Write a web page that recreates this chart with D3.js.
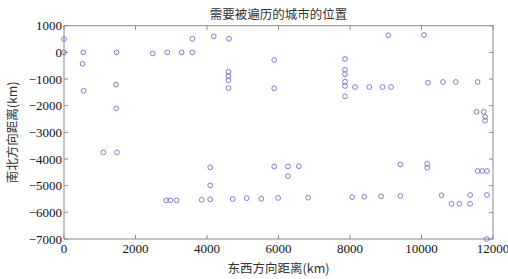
<!DOCTYPE html>
<html lang="zh">
<head>
<meta charset="UTF-8">
<title>需要被遍历的城市的位置</title>
<style>
    body { margin: 0; background: #fff; }
    .tick-label { font-family: "Liberation Serif", "DejaVu Serif", serif; font-size: 13px; fill: #111; }
    .cjk { font-family: "Noto Sans CJK SC", sans-serif; font-size: 12.5px; fill: #333; }
    .frame { fill: none; stroke: #8a8a8a; stroke-width: 1; }
    .tick { stroke: #8a8a8a; stroke-width: 1; }
    .city { fill: none; stroke: #6f6fc8; stroke-width: 0.9; }
</style>
</head>
<body>
<svg id="chart" width="508" height="279"></svg>
<script src="https://d3js.org/d3.v7.min.js"></script>
<script>
    // city coordinates in km (east-west, north-south)
    var cityX = [0, 0, 540, 520, 550, 1470, 1455, 1460, 2480, 2890, 3290, 3590, 3590,
        4190, 4615, 4600, 4600, 4600, 4600, 5880, 5880,
        7860, 7860, 7860, 7860, 7860, 7860,
        9070, 10070, 8140, 8540, 8910, 9150, 10180, 10600, 10960, 11570,
        11540, 11740, 11780, 11780,
        1100, 1480, 2860, 2970, 3150, 3850,
        4090, 4090, 4090, 4720, 5110, 5520, 5880, 6265, 6265, 6570, 5990, 6830,
        8060, 8400, 8870, 9410, 9410, 10160, 10160, 10560, 10840, 11060, 11360, 11360,
        11570, 11700, 11830, 11830, 11820];
    var cityY = [500, 0, 0, -430, -1440, 0, -1210, -2100, -40, 0, 0, 0, 510,
        600, 510, -730, -890, -1050, -1340, -290, -1350,
        -250, -650, -820, -1100, -1260, -1650,
        640, 650, -1300, -1300, -1300, -1300, -1140, -1110, -1110, -1110,
        -2230, -2230, -2420, -2560,
        -3750, -3750, -5550, -5550, -5550, -5530,
        -4310, -4990, -5510, -5500, -5470, -5490, -4280, -4280, -4640, -4270, -5460, -5450,
        -5430, -5410, -5400, -5380, -4200, -4180, -4330, -5360, -5680, -5680, -5680, -5350,
        -4450, -4450, -4450, -5350, -7000];

    var xTicks = [0, 2000, 4000, 6000, 8000, 10000, 12000];
    var yTicks = [1000, 0, -1000, -2000, -3000, -4000, -5000, -6000, -7000];

    var plotLeft = 64, plotRight = 493, plotTop = 25.7, plotBottom = 239;
    var tickLen = 4;

    var svg = d3.select('#chart');

    var x = d3.scaleLinear().domain([0, 12000]).range([plotLeft, plotRight]);
    var y = d3.scaleLinear().domain([-7000, 1000]).range([plotBottom, plotTop]);

    // axes box
    svg.append('rect')
        .attr('class', 'frame')
        .attr('x', plotLeft)
        .attr('y', plotTop)
        .attr('width', plotRight - plotLeft)
        .attr('height', plotBottom - plotTop);

    // ticks on all four sides, pointing inward
    xTicks.forEach(function (t) {
        svg.append('line').attr('class', 'tick')
            .attr('x1', x(t)).attr('x2', x(t))
            .attr('y1', plotBottom).attr('y2', plotBottom - tickLen);
        svg.append('line').attr('class', 'tick')
            .attr('x1', x(t)).attr('x2', x(t))
            .attr('y1', plotTop).attr('y2', plotTop + tickLen);
        svg.append('text').attr('class', 'tick-label')
            .attr('x', x(t))
            .attr('y', plotBottom + 14)
            .attr('text-anchor', 'middle')
            .text(d3.format('d')(t));
    });

    yTicks.forEach(function (t) {
        svg.append('line').attr('class', 'tick')
            .attr('x1', plotLeft).attr('x2', plotLeft + tickLen)
            .attr('y1', y(t)).attr('y2', y(t));
        svg.append('line').attr('class', 'tick')
            .attr('x1', plotRight).attr('x2', plotRight - tickLen)
            .attr('y1', y(t)).attr('y2', y(t));
        svg.append('text').attr('class', 'tick-label')
            .attr('x', plotLeft - 2)
            .attr('y', y(t) + 4.5)
            .attr('text-anchor', 'end')
            .text(t < 0 ? '\u2212' + Math.abs(t) : String(t));
    });

    // cities
    svg.selectAll('.city')
        .data(cityX.map(function (v, i) { return [v, cityY[i]]; }))
        .enter()
        .append('circle')
        .attr('class', 'city')
        .attr('cx', function (d) { return x(d[0]); })
        .attr('cy', function (d) { return y(d[1]); })
        .attr('r', 2.4);

    // title and axis labels
    svg.append('text').attr('class', 'cjk')
        .attr('x', (plotLeft + plotRight) / 2)
        .attr('y', 19)
        .attr('text-anchor', 'middle')
        .text('需要被遍历的城市的位置');

    svg.append('text').attr('class', 'cjk')
        .attr('x', (plotLeft + plotRight) / 2)
        .attr('y', 273)
        .attr('text-anchor', 'middle')
        .text('东西方向距离(km)');

    svg.append('text').attr('class', 'cjk')
        .attr('transform', 'translate(17,' + ((plotTop + plotBottom) / 2) + ') rotate(-90)')
        .attr('text-anchor', 'middle')
        .text('南北方向距离(km)');
</script>
</body>
</html>
